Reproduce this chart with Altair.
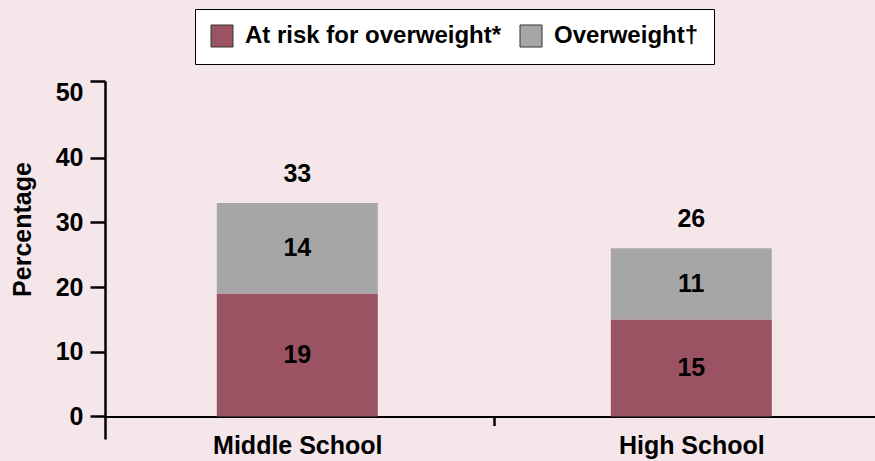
import altair as alt
import pandas as pd

# Share of students by weight status, stacked per school level
schools = ["Middle School", "High School"]
series = ["At risk for overweight*", "Overweight†"]
at_risk = [19, 15]
overweight = [14, 11]
y_ticks = [0, 10, 20, 30, 40, 50]

colors = ["#9b5263", "#a6a6a6"]
FONT = "Liberation Sans"

rows = []
for i, school in enumerate(schools):
    rows.append({"school": school, "series": series[0], "rank": 0, "value": at_risk[i]})
    rows.append({"school": school, "series": series[1], "rank": 1, "value": overweight[i]})
df = pd.DataFrame(rows)

# y axis runs a little past 50 at the top and below 0 at the bottom
Y_MIN, Y_MAX = -3.48, 51.85
y_scale = alt.Scale(domain=[Y_MIN, Y_MAX], nice=False, zero=False)

y_axis = alt.Axis(
    title="Percentage",
    values=y_ticks + [Y_MAX],
    labelExpr="datum.value > 50 ? '' : datum.label",
    labelOverlap=False,
    tickOpacity={"condition": {"test": "datum.value == 50", "value": 0}, "value": 1},
    grid=False,
    domainColor="black",
    domainWidth=2.5,
    tickColor="black",
    tickWidth=2.5,
    tickSize=15,
    labelFont=FONT,
    labelFontSize=25,
    labelFontWeight="bold",
    labelColor="black",
    labelPadding=7,
    titleFont=FONT,
    titleFontSize=25,
    titleFontWeight="bold",
    titleColor="black",
    titleAngle=270,
    titleX=-83,
    titleY=148,
    titleAlign="center",
    titleBaseline="middle",
)

# category axis sits on the zero line; its tick is shifted half a step
# so it falls between the two groups, and the labels are shifted back
STEP_HALF = 197
x_axis = alt.Axis(
    title=None,
    orient="bottom",
    offset=-22.5,
    tickOffset=STEP_HALF,
    labelOffset=-STEP_HALF,
    tickOpacity={"condition": {"test": "datum.value === 'Middle School'", "value": 1}, "value": 0},
    tickSize=9,
    tickWidth=2.5,
    tickColor="black",
    domainColor="black",
    domainWidth=2.2,
    labelFont=FONT,
    labelFontSize=25,
    labelFontWeight="bold",
    labelColor="black",
    labelPadding=8,
    labelAngle=0,
    grid=False,
)

x_enc = alt.X(
    "school:N",
    sort=schools,
    scale=alt.Scale(paddingInner=0.5914, paddingOuter=0.2729, align=0.52),
    axis=x_axis,
)

base = (
    alt.Chart(df)
    .transform_stack(
        stack="value",
        groupby=["school"],
        as_=["v0", "v1"],
        sort=[alt.SortField("rank", order="ascending")],
    )
    .transform_calculate(mid="(datum.v0 + datum.v1) / 2")
)

bars = base.mark_bar().encode(
    x=x_enc,
    y=alt.Y("v0:Q", scale=y_scale, axis=y_axis),
    y2="v1:Q",
    color=alt.Color(
        "series:N",
        scale=alt.Scale(domain=series, range=colors),
        legend=alt.Legend(
            title=None,
            orient="none",
            legendX=90,
            legendY=-72,
            direction="horizontal",
            fillColor="white",
            strokeColor="black",
            padding=15,
            symbolType="square",
            symbolSize=484,
            symbolStrokeColor="#333333",
            symbolStrokeWidth=1,
            symbolOpacity=1,
            labelFont=FONT,
            labelFontSize=24,
            labelFontWeight="bold",
            labelColor="black",
            labelOffset=11,
            labelLimit=400,
            columnPadding=16,
        ),
    ),
)

segment_labels = base.mark_text(
    font=FONT, fontSize=25, fontWeight="bold", color="black", baseline="middle"
).encode(
    x=x_enc,
    y=alt.Y("mid:Q", scale=y_scale, axis=y_axis),
    text=alt.Text("value:Q"),
)

total_labels = (
    alt.Chart(df)
    .transform_aggregate(total="sum(value)", groupby=["school"])
    .mark_text(font=FONT, fontSize=25, fontWeight="bold", color="black", baseline="bottom", dy=-16)
    .encode(
        x=x_enc,
        y=alt.Y("total:Q", scale=y_scale, axis=y_axis),
        text=alt.Text("total:Q"),
    )
)

chart = (
    alt.layer(bars, segment_labels, total_labels)
    .properties(
        width=770,
        height=358,
        padding={"left": 105, "top": 81, "right": 0, "bottom": 22},
        autosize=alt.AutoSizeParams(type="none"),
        background="#f4e6e9",
    )
    .configure_view(stroke=None)
)

chart.save("out.html", embed_options={"renderer": "svg", "actions": False})
